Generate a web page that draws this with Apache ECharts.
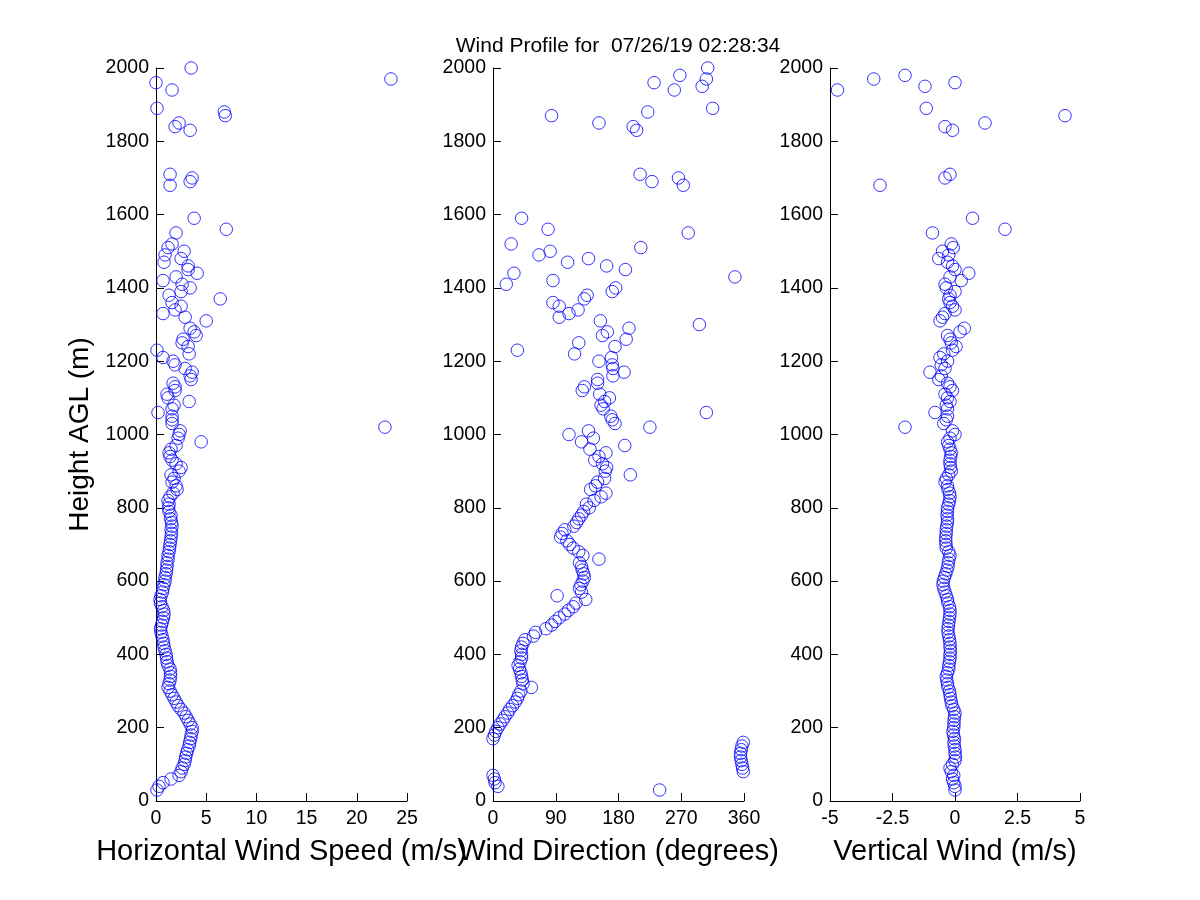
<!DOCTYPE html>
<html>
<head>
<meta charset="utf-8">
<script src="https://cdn.jsdelivr.net/npm/echarts@6/dist/echarts.min.js"></script>
<style>html,body{margin:0;padding:0;background:#fff}#c{width:1200px;height:900px}</style>
</head>
<body>
<div id="c"></div>
<script>
const titleText = 'Wind Profile for  07/26/19 02:28:34';
const heights = [
30,40,50,60,70,80,90,100,110,120,130,140,150,160,170,180,190,200,210,220,
230,240,250,260,270,280,290,300,310,320,330,340,350,360,370,380,390,400,410,420,
430,440,450,460,470,480,490,500,510,520,530,540,550,560,570,580,590,600,610,620,
630,640,650,660,670,680,690,700,710,720,730,740,750,760,770,780,790,800,810,820,
830,840,850,860,870,880,890,900,910,920,930,940,950,960,970,980,990,1000,1010,
1020,1030,1040,1050,1060,1070,1080,1090,1100,1110,1120,1130,1140,1150,1160,1170,1180,1190,1200,
1210,1220,1230,1240,1250,1260,1270,1280,1290,1300,1310,1320,1330,1340,1350,1360,1370,1380,1390,1400,
1410,1420,1430,1440,1450,1460,1470,1480,1490,1500,1510,1520,1550,1560,1590,
1680,1690,1700,1710,1830,1840,1850,1870,1880,1890,1940,1950,1960,1970,1980,2000
];
const speed = [
0.1,0.3,0.7,1.5,2.3,2.5,2.6,2.8,2.9,2.95,3.05,3.15,3.3,3.35,3.45,3.5,3.6,3.6,3.4,3.2,
3.0,2.8,2.5,2.2,2.0,1.8,1.6,1.4,1.2,1.3,1.4,1.45,1.45,1.4,1.2,1.1,1.05,1.0,0.9,0.8,
0.75,0.7,0.6,0.5,0.45,0.55,0.65,0.75,0.8,0.75,0.6,0.45,0.4,0.5,0.65,0.7,0.8,0.9,0.9,1.0,
1.05,1.1,1.1,1.2,1.2,1.3,1.35,1.4,1.45,1.5,1.55,1.5,1.6,1.55,1.45,1.5,1.3,1.25,1.3,1.2,
1.4,1.7,2.1,2.0,1.6,1.8,1.5,2.3,2.5,2.0,1.6,1.4,1.3,1.5,2.0,4.5,2.2,2.3,2.4,
22.8,1.6,1.6,1.6,0.2,1.6,1.8,3.3,1.2,1.1,1.9,1.9,1.7,3.5,3.4,3.6,2.9,1.9,1.7,
0.7,3.3,0.1,3.2,2.6,2.7,4.0,3.8,3.4,null,5.0,2.9,0.7,1.9,2.5,1.6,6.4,1.3,2.5,3.4,
2.6,0.7,2.0,4.1,3.2,3.2,0.8,2.5,0.9,2.8,1.2,1.6,2.0,7.0,3.8,
1.4,3.4,3.6,1.4,3.4,1.9,2.3,6.9,6.8,0.1,1.6,null,0.0,23.4,null,3.5
];
const direction = [
239,7,3,2,0,359,358,357,356,355,355,356,357,359,0,2,4,7,10,14,
17,21,24,28,32,35,37,40,55,43,42,41,40,38,36,39,41,41,40,41,
43,46,58,61,76,84,89,95,103,108,115,119,133,92,127,124,126,129,131,130,
128,127,124,152,129,123,115,110,106,97,99,103,116,120,123,127,130,138,134,145,
155,162,140,147,150,160,197,161,163,157,146,152,162,139,189,127,144,109,137,
225,175,171,169,306,158,155,160,167,153,128,131,150,150,172,188,172,171,152,
170,117,35,175,123,191,157,164,195,296,154,95,109,122,95,86,131,135,171,176,
19,86,347,30,190,163,107,137,66,82,212,26,280,79,41,
273,228,266,211,206,201,152,84,222,315,260,300,231,306,268,308
];
const vertical = [
0.0,0.0,-0.05,-0.1,-0.05,-0.15,-0.2,-0.1,0.0,0.02,0.0,0.0,-0.03,-0.04,-0.02,-0.06,-0.08,-0.05,-0.04,-0.04,
-0.02,0.0,-0.05,-0.12,-0.15,-0.18,-0.2,-0.22,-0.28,-0.3,-0.33,-0.35,-0.3,-0.25,-0.25,-0.22,-0.2,-0.2,-0.18,-0.2,
-0.2,-0.22,-0.25,-0.28,-0.28,-0.26,-0.24,-0.22,-0.2,-0.2,-0.22,-0.28,-0.3,-0.35,-0.4,-0.45,-0.48,-0.47,-0.42,-0.37,
-0.32,-0.28,-0.27,-0.24,-0.2,-0.25,-0.35,-0.36,-0.37,-0.37,-0.35,-0.35,-0.33,-0.3,-0.3,-0.32,-0.3,-0.3,-0.25,-0.22,
-0.2,-0.22,-0.28,-0.3,-0.4,-0.35,-0.25,-0.15,-0.18,-0.2,-0.2,-0.17,-0.15,-0.2,-0.25,-0.3,-0.2,0.0,-0.1,
-2.0,-0.45,-0.35,-0.3,-0.8,-0.3,-0.35,-0.2,-0.3,-0.4,-0.1,-0.2,-0.3,-0.65,-0.55,-1.0,-0.4,-0.55,-0.3,
-0.6,-0.45,-0.1,0.04,-0.15,-0.2,-0.3,0.2,0.37,null,-0.6,-0.5,-0.4,0.0,-0.1,-0.2,-0.25,-0.2,0.0,-0.35,
-0.4,0.25,-0.2,0.55,0.0,-0.1,-0.3,-0.65,-0.25,-0.5,-0.07,-0.15,-0.9,2.0,0.7,
-3.0,null,-0.4,-0.2,-0.1,-0.4,1.2,4.4,null,-1.15,-4.7,-1.2,0.0,-3.25,-2.0,null
];
const xNames = ['Horizontal Wind Speed (m/s)', 'Wind Direction (degrees)', 'Vertical Wind (m/s)'];
const xRanges = [[0, 25, 5], [0, 360, 90], [-5, 5, 2.5]];
const yName = 'Height AGL (m)';

const FONT = '"Liberation Sans", Arial, Helvetica, sans-serif';
const lefts = [156, 493, 830];
const widths = [251, 251, 250];
const cols = [speed, direction, vertical];

function pts(vals) {
  const out = [];
  heights.forEach((h, i) => { if (vals[i] !== null && vals[i] !== undefined) out.push([vals[i], h]); });
  return out;
}

const grids = [], xAxes = [], yAxes = [], series = [];
for (let k = 0; k < 3; k++) {
  grids.push({ left: lefts[k], top: 68, width: widths[k], height: 733 });
  xAxes.push({
    gridIndex: k, type: 'value', min: xRanges[k][0], max: xRanges[k][1], interval: xRanges[k][2],
    name: xNames[k], nameLocation: 'middle', nameGap: 36,
    nameTextStyle: { fontFamily: FONT, fontSize: 29, color: '#000' },
    axisLine: { show: true, onZero: false, lineStyle: { color: '#000', width: 1 } },
    axisTick: { show: true, inside: true, length: 8, lineStyle: { color: '#000' } },
    axisLabel: { fontFamily: FONT, fontSize: 19.5, color: '#000', margin: 8, formatter: v => String(v) },
    splitLine: { show: false }
  });
  yAxes.push({
    gridIndex: k, type: 'value', min: 0, max: 2000, interval: 200,
    name: k === 0 ? yName : '', nameLocation: 'middle', nameGap: 62, nameRotate: 90,
    nameTextStyle: { fontFamily: FONT, fontSize: 28, color: '#000' },
    axisLine: { show: true, onZero: false, lineStyle: { color: '#000', width: 1 } },
    axisTick: { show: true, inside: true, length: 8, lineStyle: { color: '#000' } },
    axisLabel: { fontFamily: FONT, fontSize: 19.5, color: '#000', margin: 7, formatter: v => String(v) },
    splitLine: { show: false }
  });
  series.push({
    type: 'scatter', xAxisIndex: k, yAxisIndex: k, data: pts(cols[k]),
    symbol: 'circle', symbolSize: 12.5, clip: false,
    itemStyle: { color: 'rgba(0,0,0,0)', borderColor: '#0000ff', borderWidth: 1 },
    emphasis: { disabled: true }, animation: false
  });
}

const chart = echarts.init(document.getElementById('c'), null, { renderer: 'canvas' });
chart.setOption({
  backgroundColor: '#fff',
  animation: false,
  title: { text: titleText, left: 613, top: 31, textAlign: 'center',
    textStyle: { fontFamily: FONT, fontSize: 21, fontWeight: 'normal', color: '#000' } },
  grid: grids, xAxis: xAxes, yAxis: yAxes, series: series
});
</script>
</body>
</html>
